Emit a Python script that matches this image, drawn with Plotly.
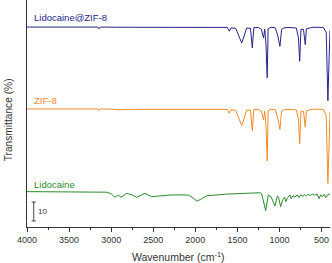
import plotly.graph_objects as go

# ---- data (wavenumber cm-1, offset transmittance %) ----
blue_w = [4000, 3160, 3145, 3130, 2950, 1660, 1620, 1597, 1575, 1520, 1480, 1449, 1420, 1390,
          1345, 1323, 1305, 1250, 1215, 1190, 1175, 1160, 1146, 1135, 1100, 1050, 1020, 995,
          975, 950, 900, 800, 775, 760, 745, 715, 694, 680, 600, 480, 445, 425, 410, 400]
blue_t = [105.7, 105.7, 104.8, 105.7, 105.6, 105.8, 105.5, 103.5, 105.3, 105.0, 101.0, 97.3,
          101.0, 105.2, 105.0, 94.7, 105.4, 105.5, 104.5, 99.9, 104.5, 96.0, 78.9, 104.8,
          105.6, 105.3, 101.0, 95.5, 104.5, 105.2, 105.5, 105.2, 100.0, 87.6, 104.5, 104.5,
          96.4, 104.8, 105.6, 105.5, 103.0, 66.8, 90.0, 104.0]

orange_w = [4000, 3160, 3145, 3130, 3000, 2900, 2750, 1660, 1620, 1597, 1575, 1520, 1480,
            1449, 1420, 1390, 1345, 1323, 1305, 1250, 1215, 1190, 1175, 1160, 1146, 1135,
            1100, 1050, 1020, 995, 975, 950, 900, 800, 775, 760, 745, 715, 694, 680, 600,
            480, 445, 425, 410, 400]
orange_t = [62.4, 62.4, 61.6, 62.4, 62.3, 62.0, 62.2, 62.5, 62.2, 60.1, 62.0, 61.7, 57.5,
            53.6, 57.5, 61.9, 61.7, 50.9, 62.1, 62.2, 61.2, 56.6, 61.2, 53.0, 34.9, 61.5,
            62.3, 62.0, 57.5, 51.6, 61.2, 61.9, 62.2, 61.9, 57.0, 43.9, 61.2, 61.2, 52.7,
            61.5, 62.3, 62.2, 59.0, 23.1, 45.0, 61.0]

green_w = [4000, 3100, 3050, 3000, 2955, 2915, 2883, 2816, 2750, 2697, 2598, 2519, 2400,
           2300, 2182, 2080, 2030, 1984, 1940, 1865, 1627, 1400, 1232, 1212, 1190, 1164,
           1133, 1100, 1054, 1025, 1010, 986, 960, 940, 924, 905, 877, 860, 840, 815, 790,
           770, 750, 720, 700, 680, 660, 635, 610, 580, 555, 530, 510, 490, 470, 450, 430, 400]
green_t = [18.7, 18.7, 18.4, 17.5, 15.7, 16.9, 15.7, 17.8, 17.0, 15.7, 17.8, 16.0, 16.5,
           16.9, 17.0, 16.8, 15.5, 13.7, 14.5, 16.5, 17.4, 17.9, 18.1, 17.6, 14.0, 8.6,
           16.9, 15.9, 11.1, 16.5, 15.5, 10.7, 14.5, 15.8, 13.4, 15.5, 16.9, 15.0, 16.5,
           15.8, 17.0, 15.5, 17.0, 16.2, 17.2, 16.4, 17.3, 16.6, 17.4, 16.8, 17.5, 15.0,
           17.0, 16.0, 17.2, 15.5, 17.0, 17.5]

series_names = ["Lidocaine@ZIF-8", "ZIF-8", "Lidocaine"]
series_colors = ["#24248a", "#f28c28", "#2a8a2a"]
label_y = [111, 67, 22.7]

x_ticks = [4000, 3500, 3000, 2500, 2000, 1500, 1000, 500]
scale_bar = [3.2, 13.2]  # 10 % transmittance
scale_x = 3920

FONT = "Arial, Liberation Sans, sans-serif"

fig = go.Figure()
for w, t, c in zip([blue_w, orange_w, green_w], [blue_t, orange_t, green_t], series_colors):
    fig.add_trace(go.Scatter(x=w, y=t, mode="lines", line=dict(color=c, width=1),
                             showlegend=False, hoverinfo="skip"))

for name, c, y in zip(series_names, series_colors, label_y):
    fig.add_annotation(x=3940, y=y, text=name, showarrow=False, xanchor="left",
                       yanchor="middle", font=dict(family=FONT, size=9.5, color=c))

# scale bar
fig.add_shape(type="line", x0=scale_x, x1=scale_x, y0=scale_bar[0], y1=scale_bar[1],
              line=dict(color="#444", width=1))
for yb in scale_bar:
    fig.add_shape(type="line", x0=scale_x - 25, x1=scale_x + 25, y0=yb, y1=yb,
                  line=dict(color="#444", width=1))
fig.add_annotation(x=3893, y=(scale_bar[0] + scale_bar[1]) / 2, text="10", showarrow=False,
                   xanchor="left", yanchor="middle", font=dict(family=FONT, size=8, color="#333"))

# axis titles as paper annotations
fig.add_annotation(xref="paper", yref="paper", x=0.5, y=0, yshift=-29, xanchor="center",
                   yanchor="middle", showarrow=False, text="Wavenumber (cm<sup>-1</sup>)",
                   font=dict(size=10.5, family=FONT, color="#333"))
fig.add_annotation(xref="paper", yref="paper", x=0, xshift=-19, y=0.47, xanchor="center",
                   yanchor="middle", showarrow=False, text="Transmittance (%)", textangle=-90,
                   font=dict(size=10.2, family=FONT, color="#333"))

fig.update_layout(
    width=332, height=263,
    margin=dict(l=27, r=2, t=0, b=36, autoexpand=False),
    paper_bgcolor="white", plot_bgcolor="white",
    font=dict(family=FONT, color="#333"),
)
fig.update_xaxes(range=[4000, 400], tickvals=x_ticks, ticks="outside", ticklen=4,
                 tickwidth=1, tickcolor="#333", showline=True, linecolor="#333",
                 linewidth=1, showgrid=False, zeroline=False, automargin=False,
                 tickfont=dict(size=9, family=FONT, color="#333"),
                 minor=dict(dtick=250, ticks="outside", ticklen=2, tickcolor="#333"))
fig.update_yaxes(range=[0, 120], showticklabels=False, ticks="", showline=True,
                 linecolor="#333", linewidth=1, showgrid=False, zeroline=False,
                 automargin=False)

fig.write_html("out.html", config={"displayModeBar": False},
               post_script="document.body.style.margin='0';document.body.style.overflow='hidden';")
